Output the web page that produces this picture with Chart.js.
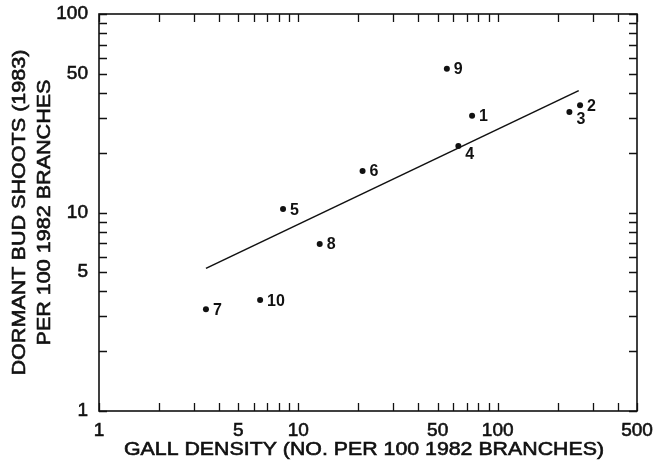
<!DOCTYPE html>
<html>
<head>
<meta charset="utf-8">
<script src="https://cdn.jsdelivr.net/npm/chart.js@4/dist/chart.umd.min.js"></script>
<style>
  html, body { margin: 0; padding: 0; background: #fff; }
  canvas { display: block; }
</style>
</head>
<body>
<canvas id="chart" width="655" height="464"></canvas>
<script>
// Study sites and their measurements
const siteIds     = [1, 2, 3, 4, 5, 6, 7, 8, 9, 10];
const gallDensity = [74.4, 259, 229, 63.5, 8.38, 21.0, 3.44, 12.8, 55.6, 6.43];
const budShoots   = [30.7, 34.7, 32.1, 21.6, 10.4, 16.2, 3.26, 6.94, 53.0, 3.62];

// End points of the fitted regression line
const fitX = [3.44, 255];
const fitY = [5.23, 41.1];

// Axis tick positions and the ones that carry a label
const xTickValues = [1, 2, 3, 4, 5, 6, 7, 8, 9, 10, 20, 30, 40, 50, 60, 70, 80, 90, 100, 200, 300, 400, 500];
const xTickLabels = [1, 5, 10, 50, 100, 500];
const yTickValues = [1, 2, 3, 4, 5, 6, 7, 8, 9, 10, 20, 30, 40, 50, 60, 70, 80, 90, 100];
const yTickLabels = [1, 5, 10, 50, 100];

const xTitle = 'GALL DENSITY (NO. PER 100 1982 BRANCHES)';
const yTitle = ['DORMANT BUD SHOOTS (1983)', 'PER 100 1982 BRANCHES'];

const FONT = '"Liberation Sans", Arial, Helvetica, sans-serif';
const INK = '#111';

// label placement tweaks for crowded points (dx, dy from the point)
const labelNudge = { 3: [7, 7], 4: [7, 7] };

const points = siteIds.map((id, i) => ({ x: gallDensity[i], y: budShoots[i], id }));
const fitLine = fitX.map((x, i) => ({ x, y: fitY[i] }));

// draw a string centred at (0,y), widened to the given width
function wideText(ctx, text, width, y) {
  const natural = ctx.measureText(text).width;
  ctx.save();
  ctx.scale(width / natural, 1);
  ctx.fillText(text, 0, y);
  ctx.strokeText(text, 0, y);
  ctx.restore();
}

// Inward tick marks on all four sides, plus point labels and axis titles
const framePlugin = {
  id: 'frame',
  afterDraw(chart) {
    const { ctx, chartArea: a, scales: { x, y } } = chart;
    const len = 8;
    ctx.save();
    ctx.strokeStyle = INK;
    ctx.lineWidth = 1.3;
    ctx.beginPath();
    xTickValues.forEach(v => {
      const px = Math.round(x.getPixelForValue(v)) + 0.5;
      ctx.moveTo(px, a.bottom); ctx.lineTo(px, a.bottom - len);
      ctx.moveTo(px, a.top); ctx.lineTo(px, a.top + len);
    });
    yTickValues.forEach(v => {
      const py = Math.round(y.getPixelForValue(v)) + 0.5;
      ctx.moveTo(a.left, py); ctx.lineTo(a.left + len, py);
      ctx.moveTo(a.right, py); ctx.lineTo(a.right - len, py);
    });
    ctx.stroke();

    // frame
    ctx.lineWidth = 1.6;
    ctx.strokeRect(a.left, a.top, a.right - a.left, a.bottom - a.top);

    // site numbers beside each point
    ctx.fillStyle = INK;
    ctx.font = 'bold 16px ' + FONT;
    ctx.textAlign = 'left';
    ctx.textBaseline = 'middle';
    const meta = chart.getDatasetMeta(0);
    meta.data.forEach((el, i) => {
      const id = points[i].id;
      const [dx, dy] = labelNudge[id] || [7, 0];
      ctx.fillText(String(id), el.x + dx, el.y + dy + 1);
    });

    // axis titles
    ctx.font = '18.5px ' + FONT;
    ctx.textAlign = 'center';
    ctx.textBaseline = 'middle';
    ctx.lineWidth = 0.6;
    ctx.save();
    ctx.translate((a.left + a.right) / 2 - 4, 450);
    wideText(ctx, xTitle, 480, 0);
    ctx.restore();

    ctx.save();
    ctx.translate(20, (a.top + a.bottom) / 2);
    ctx.rotate(-Math.PI / 2);
    wideText(ctx, yTitle[0], 326, 0);
    wideText(ctx, yTitle[1], 266, 25);
    ctx.restore();
    ctx.restore();
  }
};

const tickFont = { family: FONT, size: 19 };

new Chart(document.getElementById('chart'), {
  data: {
    datasets: [
      {
        type: 'scatter',
        data: points,
        pointRadius: 3,
        pointHoverRadius: 3,
        pointBackgroundColor: INK,
        pointBorderWidth: 0,
        order: 1
      },
      {
        type: 'line',
        data: fitLine,
        borderColor: INK,
        borderWidth: 1.6,
        pointRadius: 0,
        fill: false,
        tension: 0,
        order: 2
      }
    ]
  },
  options: {
    responsive: false,
    devicePixelRatio: 1,
    animation: false,
    events: [],
    layout: { padding: { top: 14, right: 18, left: 0, bottom: 0 } },
    plugins: {
      legend: { display: false },
      tooltip: { enabled: false },
      title: { display: false }
    },
    scales: {
      x: {
        type: 'logarithmic',
        position: 'bottom',
        min: 1,
        max: 500,
        grid: { display: false, drawTicks: false },
        border: { display: false },
        afterBuildTicks: s => { s.ticks = xTickValues.map(v => ({ value: v })); },
        afterFit: s => { s.height = 53; s.paddingLeft = 0; s.paddingRight = 0; },
        ticks: {
          autoSkip: false,
          maxRotation: 0,
          padding: 8,
          color: INK,
          textStrokeColor: INK,
          textStrokeWidth: 0.6,
          font: tickFont,
          callback: v => (xTickLabels.includes(v) ? String(v) : '')
        }
      },
      y: {
        type: 'logarithmic',
        position: 'left',
        min: 1,
        max: 100,
        grid: { display: false, drawTicks: false },
        border: { display: false },
        afterBuildTicks: s => { s.ticks = yTickValues.map(v => ({ value: v })); },
        afterFit: s => { s.width = 99; s.paddingTop = 0; s.paddingBottom = 0; },
        ticks: {
          autoSkip: false,
          padding: 11,
          color: INK,
          textStrokeColor: INK,
          textStrokeWidth: 0.6,
          font: tickFont,
          callback: v => (yTickLabels.includes(v) ? String(v) : '')
        }
      }
    }
  },
  plugins: [framePlugin]
});
</script>
</body>
</html>
